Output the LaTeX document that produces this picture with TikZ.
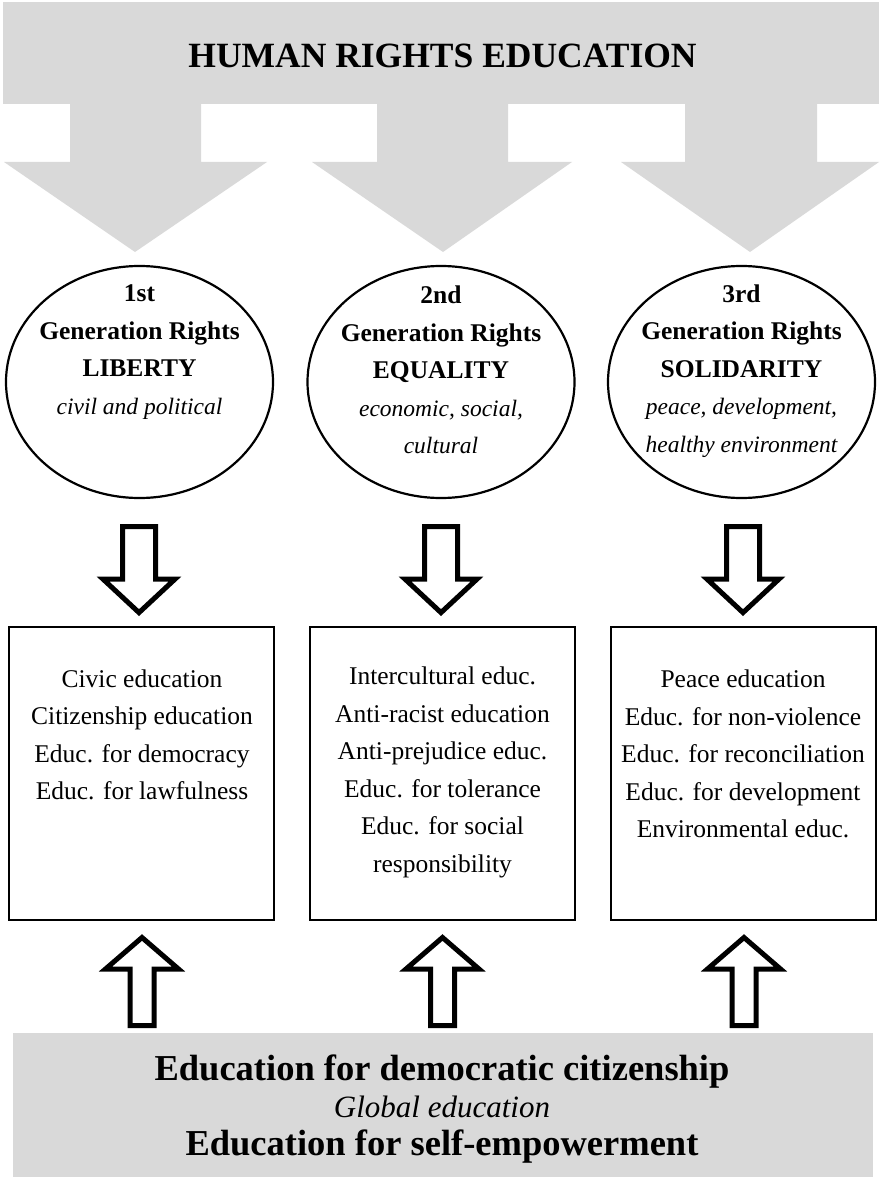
\documentclass[tikz,border=0pt]{standalone}
\usepackage{fontspec}
\setmainfont{Liberation Serif}
\usetikzlibrary{shapes.geometric,calc}
\definecolor{hrgray}{HTML}{D9D9D9}
\begin{document}
\begin{tikzpicture}[x=1pt,y=-1pt,
  band/.style={fill=hrgray,draw=none},
  ell/.style={ellipse,draw,line width=2.2pt,minimum width=267pt,minimum height=232pt,inner sep=0pt},
  etext/.style={align=center,inner sep=0pt,font=\bfseries\fontsize{25.5}{37.5}\selectfont},
  edubox/.style={rectangle,draw,line width=2pt,minimum width=265pt,minimum height=293pt,inner sep=0pt},
  btext/.style={align=center,inner sep=0pt,font=\fontsize{25.5}{37.5}\selectfont},
  hollow/.style={draw=black,fill=white,line width=5pt,miter limit=10},
  downarr/.pic={\path[hollow] (-16.5,0) -- (-16.5,52.5) -- (-36,52.5) -- (0,86) -- (36,52.5) -- (16.5,52.5) -- (16.5,0) -- cycle;},
  uparr/.pic={\path[hollow] (-12,0) -- (-12,-56.5) -- (-36.5,-56.5) -- (0,-88) -- (36.5,-56.5) -- (12,-56.5) -- (12,0) -- cycle;}
]
\useasboundingbox (0,0) rectangle (879,1177);

% top banner and grey arrows
\node[band,minimum width=876pt,minimum height=102pt,inner sep=0pt] (hr) at (441,53) {};
\node[inner sep=0pt,font=\bfseries\fontsize{35.5}{40}\selectfont] (hrtitle) at (442.5,56) {HUMAN RIGHTS EDUCATION};
\fill[band] (70,103) -- (70,162) -- (4,162) -- (135,252) -- (267,162) -- (201,162) -- (201,103) -- cycle;
\fill[band] (377,103) -- (377,162) -- (312,162) -- (443,252) -- (572,162) -- (508,162) -- (508,103) -- cycle;
\fill[band] (685,103) -- (685,162) -- (621,162) -- (750,252) -- (879,162) -- (817,162) -- (817,103) -- cycle;

% ellipses
\node[ell] (e1) at (139.5,382) {};
\node[ell] (e2) at (441,382) {};
\node[ell] (e3) at (741.5,382) {};
\node[etext] (t1) at (139.5,352) {1st\\Generation Rights\\LIBERTY\\{\mdseries\itshape\fontsize{23.5}{37.5}\selectfont civil and political}};
\node[etext] (t2) at (441,370) {2nd\\Generation Rights\\EQUALITY\\{\mdseries\itshape\fontsize{23.5}{37.5}\selectfont economic, social,}\\{\mdseries\itshape\fontsize{23.5}{37.5}\selectfont cultural}};
\node[etext] (t3) at (741.5,371) {3rd\\Generation Rights\\SOLIDARITY\\{\mdseries\itshape\fontsize{23.5}{37.5}\selectfont peace, development,}\\{\mdseries\itshape\fontsize{23.5}{37.5}\selectfont healthy environment}};

% boxes
\node[edubox] (b1) at (141.5,773.5) {};
\node[edubox] (b2) at (442.5,773.5) {};
\node[edubox] (b3) at (743,773.5) {};
\node[btext] (bt1) at (142,735) {Civic education\\Citizenship education\\Educ. for democracy\\Educ. for lawfulness};
\node[btext] (bt2) at (442.5,772.5) {Intercultural educ.\\Anti-racist education\\Anti-prejudice educ.\\Educ. for tolerance\\Educ. for social\\responsibility};
\node[btext] (bt3) at (743,754) {Peace education\\Educ. for non-violence\\Educ. for reconciliation\\Educ. for development\\Environmental educ.};

% bottom band
\node[band,minimum width=860pt,minimum height=144pt,inner sep=0pt] (bot) at (443,1105) {};
\node[align=center,inner sep=0pt,font=\bfseries\fontsize{36.5}{37.5}\selectfont] (bottxt) at (442,1109) {Education for democratic citizenship\\{\mdseries\itshape\fontsize{31}{37.5}\selectfont Global education}\\Education for self-empowerment};

% hollow arrows
\pic at ($(e1.south)+(-0.5,27.5)$) {downarr};
\pic at ($(e2.south)+(0,27.5)$) {downarr};
\pic at ($(e3.south)+(1.5,27.5)$) {downarr};
\pic at ($(b1.south)+(0.5,104.5)$) {uparr};
\pic at ($(b2.south)+(0,104.5)$) {uparr};
\pic at ($(b3.south)+(1,104.5)$) {uparr};
\end{tikzpicture}
\end{document}
